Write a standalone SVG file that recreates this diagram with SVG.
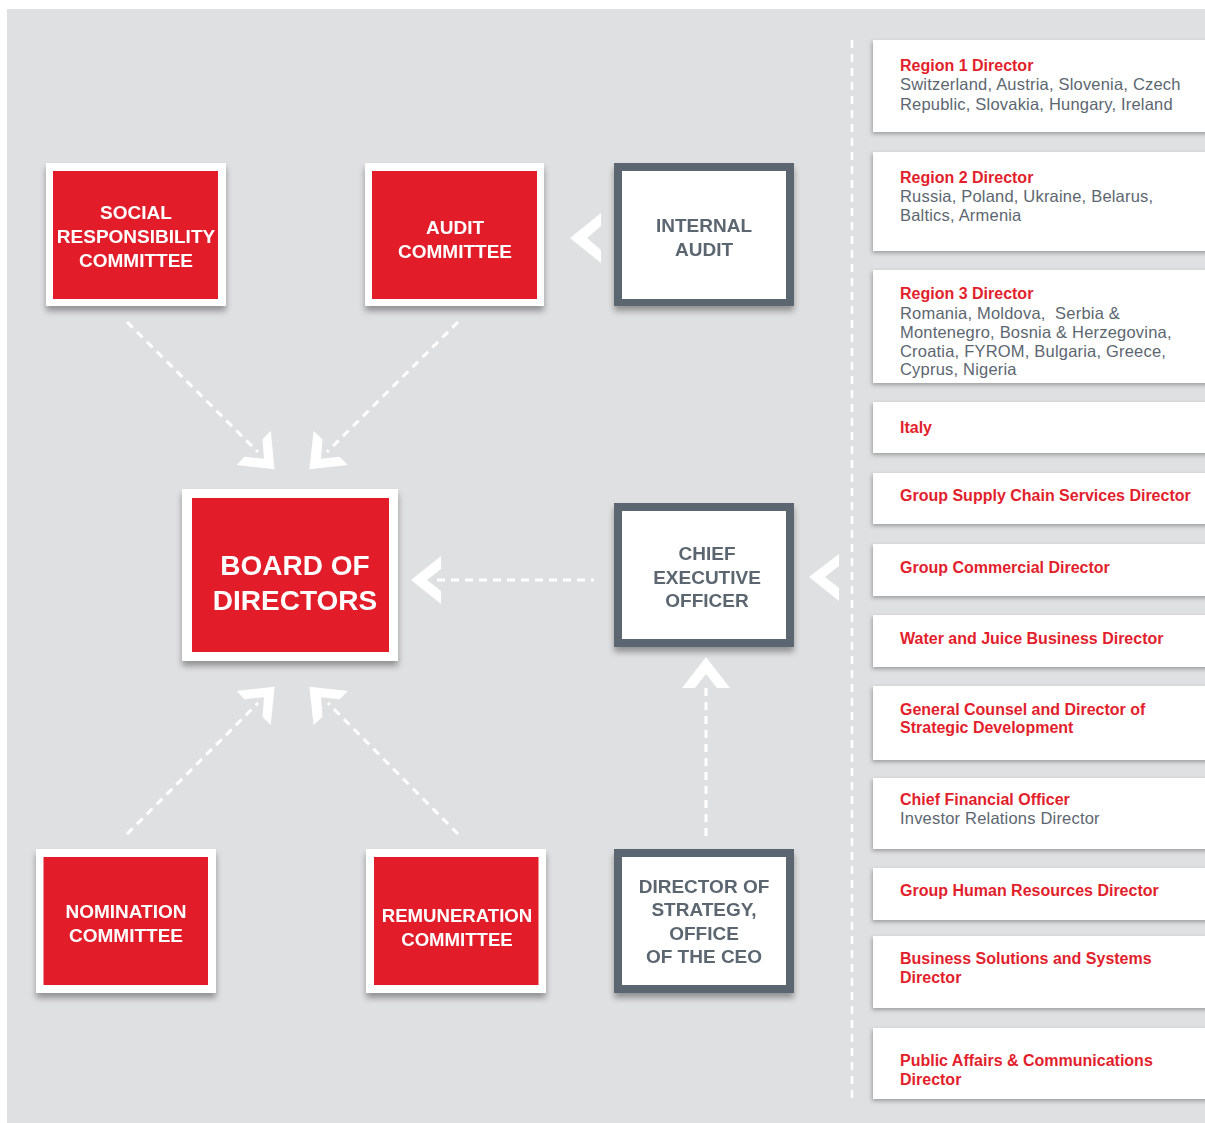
<svg xmlns="http://www.w3.org/2000/svg" width="1205" height="1123" viewBox="0 0 1205 1123">
<defs>
<filter id="sh" x="-10%" y="-10%" width="120%" height="130%">
<feDropShadow dx="0" dy="5" stdDeviation="3" flood-color="#000" flood-opacity="0.35"/>
</filter>
<filter id="sh2" x="-10%" y="-20%" width="120%" height="150%">
<feDropShadow dx="-1" dy="2" stdDeviation="2" flood-color="#000" flood-opacity="0.3"/>
</filter>
<style>
.bg{fill:#dfe0e2}
.white{fill:#ffffff}
.red{fill:#e31e2c}
.grey{fill:#5c6670}
.lbl{font-family:"Liberation Sans",Arial,sans-serif;font-weight:bold;font-size:19px;text-anchor:middle}
.lw{fill:#ffffff}
.lg{fill:#5c6670}
.big{font-size:28px}
.dash{stroke:#ffffff;stroke-width:3;stroke-dasharray:8 6;fill:none}
.vdash{stroke:#ffffff;stroke-width:2.5;stroke-dasharray:8 6;fill:none}
.chev{fill:#ffffff}
.rt{font-family:"Liberation Sans",Arial,sans-serif;font-weight:bold;font-size:16px;fill:#e31e2c}
.rs{font-family:"Liberation Sans",Arial,sans-serif;font-size:16.5px;letter-spacing:0.2px;fill:#5c6670}
</style>
</defs>
<rect x="0" y="0" width="1205" height="1123" fill="#ffffff"/>
<rect class="bg" x="7" y="9" width="1198" height="1114"/>

<g id="connectors">
<line class="dash" x1="127" y1="322" x2="258" y2="452"/>
<polygon class="chev" points="236.8,465 274.6,469.3 270.7,431 262.5,439.3 264,458.7 244.3,456.7"/>
<line class="dash" x1="458" y1="322" x2="327" y2="452"/>
<polygon class="chev" points="309.3,469.3 347.9,465 339.6,456.7 321,458.7 322.5,439.3 313.6,431"/>
<line class="dash" x1="127" y1="834" x2="258" y2="703"/>
<polygon class="chev" points="236.8,691 274.6,686.7 270.7,725 262.5,716.7 264,697.3 244.3,699.3"/>
<line class="dash" x1="458" y1="834" x2="328" y2="703"/>
<polygon class="chev" points="309.3,686.7 347.9,691 339.6,699.3 321,697.3 322.5,716.7 313.6,725"/>
<polygon class="chev" points="601,213 570,238 601,263 601,250 587,238 601,226"/>
<line class="dash" x1="437" y1="580" x2="594" y2="580"/>
<polygon class="chev" points="441,556 411,580 441,604 441,591 427,580 441,569"/>
<polygon class="chev" points="839,554 809,577 839,601 839,588 825,577 839,566"/>
<line class="dash" x1="706" y1="688" x2="706" y2="840"/>
<polygon class="chev" points="682,688 706,657 730,688 717,688 706,674 695,688"/>
<line class="vdash" x1="852" y1="40" x2="852" y2="1100"/>
</g>

<g id="social" filter="url(#sh)">
<rect class="white" x="46" y="163" width="180" height="143"/>
<rect class="red" x="53" y="171" width="165" height="128"/>
<text class="lbl lw"><tspan x="136" y="219">SOCIAL</tspan><tspan x="136" y="243">RESPONSIBILITY</tspan><tspan x="136" y="267">COMMITTEE</tspan></text>
</g>
<g id="audit" filter="url(#sh)">
<rect class="white" x="365" y="163" width="179" height="143"/>
<rect class="red" x="372" y="171" width="165" height="128"/>
<text class="lbl lw"><tspan x="455" y="234">AUDIT</tspan><tspan x="455" y="258">COMMITTEE</tspan></text>
</g>
<g id="internal-audit" filter="url(#sh)">
<rect class="grey" x="614" y="163" width="180" height="143"/>
<rect class="white" x="622" y="171" width="164" height="128"/>
<text class="lbl lg"><tspan x="704" y="232">INTERNAL</tspan><tspan x="704" y="256">AUDIT</tspan></text>
</g>
<g id="board" filter="url(#sh)">
<rect class="white" x="182" y="489" width="216" height="172"/>
<rect class="red" x="192" y="498" width="197" height="154"/>
<text class="lbl lw big"><tspan x="295" y="575">BOARD OF</tspan><tspan x="295" y="610">DIRECTORS</tspan></text>
</g>
<g id="ceo" filter="url(#sh)">
<rect class="grey" x="614" y="503" width="180" height="144"/>
<rect class="white" x="622" y="511" width="164" height="128"/>
<text class="lbl lg"><tspan x="707" y="560">CHIEF</tspan><tspan x="707" y="584">EXECUTIVE</tspan><tspan x="707" y="607">OFFICER</tspan></text>
</g>
<g id="strategy" filter="url(#sh)">
<rect class="grey" x="614" y="849" width="180" height="144"/>
<rect class="white" x="622" y="857" width="164" height="128"/>
<text class="lbl lg"><tspan x="704" y="893">DIRECTOR OF</tspan><tspan x="704" y="916">STRATEGY,</tspan><tspan x="704" y="940">OFFICE</tspan><tspan x="704" y="963">OF THE CEO</tspan></text>
</g>
<g id="nomination" filter="url(#sh)">
<rect class="white" x="36" y="849" width="180" height="144"/>
<rect class="red" x="43.5" y="857" width="164.5" height="128"/>
<text class="lbl lw"><tspan x="126" y="918">NOMINATION</tspan><tspan x="126" y="942">COMMITTEE</tspan></text>
</g>
<g id="remuneration" filter="url(#sh)">
<rect class="white" x="366" y="849" width="180" height="144"/>
<rect class="red" x="374" y="857" width="164.5" height="128"/>
<text class="lbl lw" style="font-size:18.6px"><tspan x="457" y="922">REMUNERATION</tspan><tspan x="457" y="946">COMMITTEE</tspan></text>
</g>

<g id="region1"><rect class="white" filter="url(#sh2)" x="873" y="40" width="340" height="92"/>
<text class="rt" x="900" y="71">Region 1 Director</text>
<text class="rs"><tspan x="900" y="90">Switzerland, Austria, Slovenia, Czech</tspan><tspan x="900" y="109.5">Republic, Slovakia, Hungary, Ireland</tspan></text></g>
<g id="region2"><rect class="white" filter="url(#sh2)" x="873" y="152" width="340" height="99"/>
<text class="rt" x="900" y="183">Region 2 Director</text>
<text class="rs"><tspan x="900" y="202">Russia, Poland, Ukraine, Belarus,</tspan><tspan x="900" y="220.5">Baltics, Armenia</tspan></text></g>
<g id="region3"><rect class="white" filter="url(#sh2)" x="873" y="270" width="340" height="113"/>
<text class="rt" x="900" y="299">Region 3 Director</text>
<text class="rs" xml:space="preserve"><tspan x="900" y="318.5">Romania, Moldova,  Serbia &amp;</tspan><tspan x="900" y="337.5">Montenegro, Bosnia &amp; Herzegovina,</tspan><tspan x="900" y="356.5">Croatia, FYROM, Bulgaria, Greece,</tspan><tspan x="900" y="375">Cyprus, Nigeria</tspan></text></g>
<g id="italy"><rect class="white" filter="url(#sh2)" x="873" y="402" width="340" height="51"/>
<text class="rt" x="900" y="432.5">Italy</text></g>
<g id="supply"><rect class="white" filter="url(#sh2)" x="873" y="473" width="340" height="51"/>
<text class="rt" x="900" y="501">Group Supply Chain Services Director</text></g>
<g id="commercial"><rect class="white" filter="url(#sh2)" x="873" y="544" width="340" height="52"/>
<text class="rt" x="900" y="572.5">Group Commercial Director</text></g>
<g id="water"><rect class="white" filter="url(#sh2)" x="873" y="615" width="340" height="52"/>
<text class="rt" x="900" y="643.5">Water and Juice Business Director</text></g>
<g id="counsel"><rect class="white" filter="url(#sh2)" x="873" y="686" width="340" height="74"/>
<text class="rt"><tspan x="900" y="714.5">General Counsel and Director of</tspan><tspan x="900" y="733">Strategic Development</tspan></text></g>
<g id="cfo"><rect class="white" filter="url(#sh2)" x="873" y="778" width="340" height="71"/>
<text class="rt" x="900" y="805">Chief Financial Officer</text>
<text class="rs" x="900" y="824">Investor Relations Director</text></g>
<g id="hr"><rect class="white" filter="url(#sh2)" x="873" y="868" width="340" height="52"/>
<text class="rt" x="900" y="896">Group Human Resources Director</text></g>
<g id="bss"><rect class="white" filter="url(#sh2)" x="873" y="936" width="340" height="72"/>
<text class="rt"><tspan x="900" y="964">Business Solutions and Systems</tspan><tspan x="900" y="983">Director</tspan></text></g>
<g id="public"><rect class="white" filter="url(#sh2)" x="873" y="1028" width="340" height="71"/>
<text class="rt"><tspan x="900" y="1066">Public Affairs &amp; Communications</tspan><tspan x="900" y="1085">Director</tspan></text></g>
</svg>
